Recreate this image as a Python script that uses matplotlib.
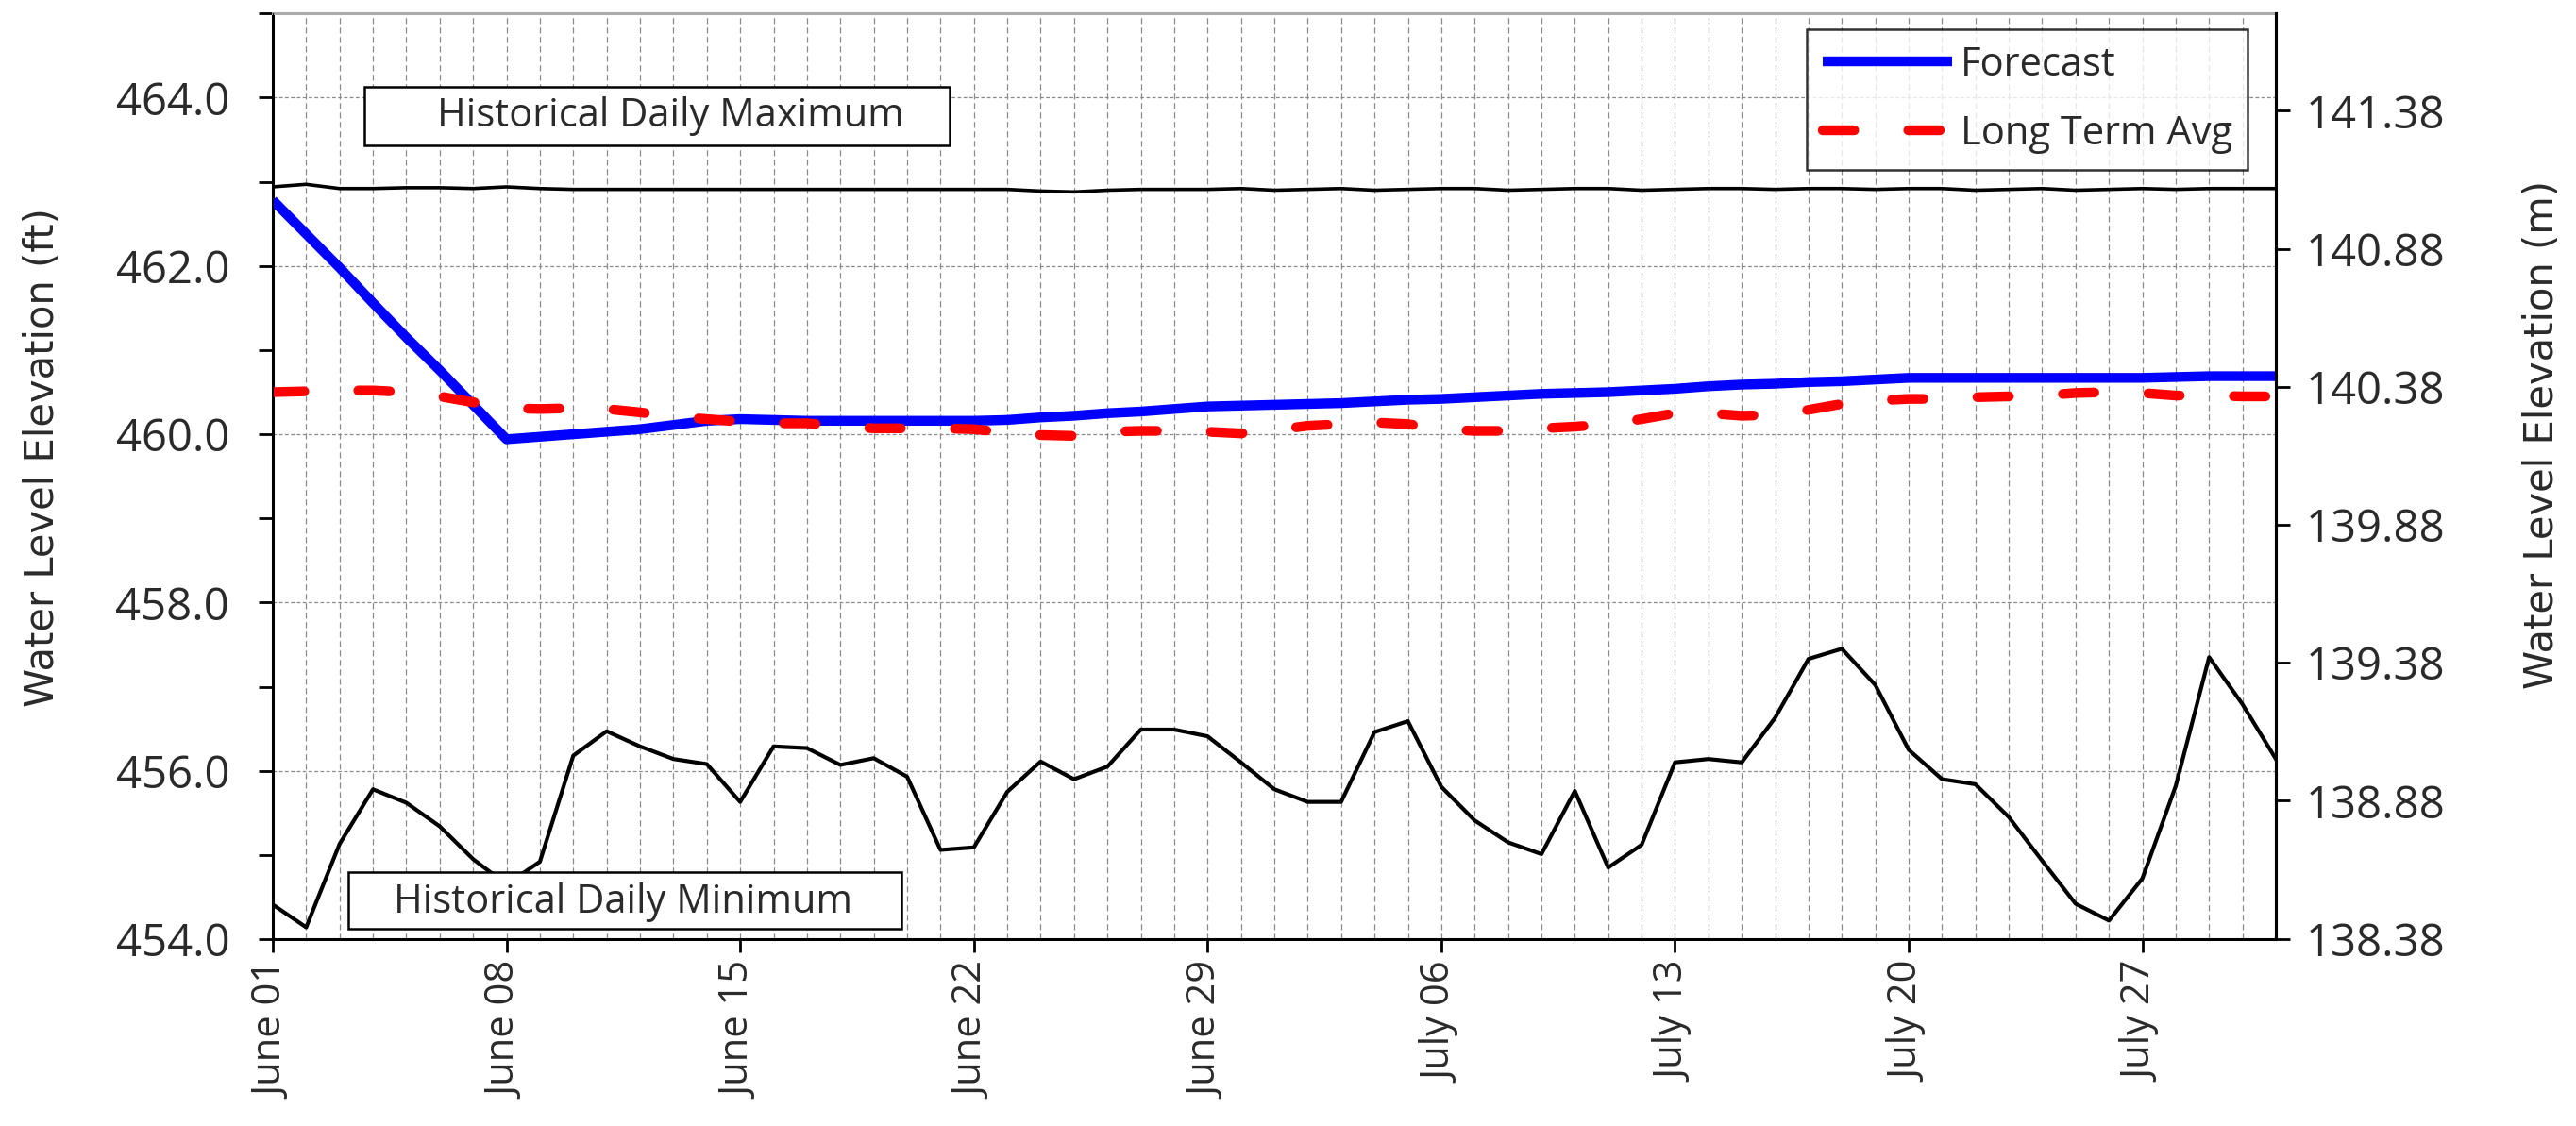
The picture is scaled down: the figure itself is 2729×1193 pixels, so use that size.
import matplotlib
matplotlib.use("Agg")
import matplotlib.pyplot as plt
from matplotlib.patches import Rectangle
from matplotlib.ticker import MultipleLocator, FormatStrFormatter, FixedLocator
import numpy as np

# day index 0 = June 01 ... 60 = July 31
days = np.arange(61)
tick_days = [0, 7, 14, 21, 28, 35, 42, 49, 56]
tick_labels = ["June 01", "June 08", "June 15", "June 22", "June 29",
               "July 06", "July 13", "July 20", "July 27"]

# Water level elevation (ft)
forecast = [462.78, 462.38, 461.98, 461.56, 461.15, 460.76, 460.35, 459.94, 459.97, 460.00,
            460.03, 460.06, 460.11, 460.16, 460.18, 460.17, 460.16, 460.16, 460.16, 460.16,
            460.16, 460.16, 460.17, 460.20, 460.22, 460.25, 460.27, 460.30, 460.33, 460.34,
            460.35, 460.36, 460.37, 460.39, 460.41, 460.42, 460.44, 460.46, 460.48, 460.49,
            460.50, 460.52, 460.54, 460.57, 460.59, 460.60, 460.62, 460.63, 460.65, 460.67,
            460.67, 460.67, 460.67, 460.67, 460.67, 460.67, 460.67, 460.68, 460.69, 460.69,
            460.69]

long_term_avg = [460.50, 460.51, 460.52, 460.52, 460.50, 460.45, 460.38, 460.31, 460.30, 460.31,
                 460.30, 460.26, 460.21, 460.18, 460.15, 460.13, 460.13, 460.10, 460.07, 460.07,
                 460.07, 460.06, 460.02, 459.99, 459.98, 460.03, 460.04, 460.04, 460.03, 460.01,
                 460.05, 460.10, 460.12, 460.14, 460.12, 460.06, 460.04, 460.04, 460.07, 460.09,
                 460.12, 460.18, 460.25, 460.25, 460.22, 460.23, 460.29, 460.36, 460.40, 460.42,
                 460.42, 460.44, 460.45, 460.46, 460.49, 460.50, 460.49, 460.46, 460.46, 460.45,
                 460.45]

hist_max = [462.94, 462.97, 462.92, 462.92, 462.93, 462.93, 462.92, 462.94, 462.92, 462.91,
            462.91, 462.91, 462.91, 462.91, 462.91, 462.91, 462.91, 462.91, 462.91, 462.91,
            462.91, 462.91, 462.91, 462.89, 462.88, 462.90, 462.91, 462.91, 462.91, 462.92,
            462.90, 462.91, 462.92, 462.90, 462.91, 462.92, 462.92, 462.90, 462.91, 462.92,
            462.92, 462.90, 462.91, 462.92, 462.92, 462.91, 462.92, 462.92, 462.91, 462.92,
            462.92, 462.90, 462.91, 462.92, 462.90, 462.91, 462.92, 462.91, 462.92, 462.92,
            462.92]

hist_min = [454.41, 454.14, 455.13, 455.78, 455.62, 455.34, 454.95, 454.65, 454.92, 456.18,
            456.47, 456.29, 456.14, 456.08, 455.63, 456.29, 456.27, 456.07, 456.15, 455.93,
            455.06, 455.09, 455.75, 456.11, 455.90, 456.05, 456.49, 456.49, 456.41, 456.10,
            455.78, 455.63, 455.63, 456.46, 456.59, 455.81, 455.41, 455.15, 455.01, 455.76,
            454.85, 455.12, 456.10, 456.14, 456.10, 456.63, 457.33, 457.45, 457.02, 456.25,
            455.90, 455.84, 455.45, 454.93, 454.42, 454.22, 454.72, 455.82, 457.35, 456.79,
            456.14]

FT_TO_M = 0.3048

tick_font = "Open Sans"
label_font = "DejaVu Sans"
text_col = "#2a2a2a"

fig = plt.figure(figsize=(27.29, 11.93), dpi=100)
ax = fig.add_axes([0.1059, 0.166, 0.7776, 0.822])

ax.plot(days, hist_max, color="black", lw=2.6, zorder=3)
ax.plot(days, hist_min, color="black", lw=3.0, zorder=3)
ax.plot(days, forecast, color="#0000ff", lw=7.5, solid_capstyle="butt", label="Forecast", zorder=4)
ax.plot(days, long_term_avg, color="#ff0000", lw=7.5, dashes=(3.2, 5.5), dash_capstyle="round",
        label="Long Term Avg", zorder=5)

# label boxes
ax.add_patch(Rectangle((2.74, 463.43), 17.53, 0.70, fc="white", ec="black", lw=1.8, zorder=6))
ax.text(11.9, 463.78, "Historical Daily Maximum", ha="center", va="center",
        fontsize=30, family=tick_font, color=text_col, zorder=7)
ax.add_patch(Rectangle((2.26, 454.12), 16.57, 0.68, fc="white", ec="black", lw=1.8, zorder=6))
ax.text(10.5, 454.44, "Historical Daily Minimum", ha="center", va="center",
        fontsize=30, family=tick_font, color=text_col, zorder=7)

ax.set_xlim(0, 60)
ax.set_ylim(454, 465)

ax.xaxis.set_major_locator(FixedLocator(tick_days))
ax.set_xticklabels(tick_labels, rotation=90, family=tick_font, fontsize=30, color=text_col)
ax.xaxis.set_minor_locator(MultipleLocator(1))
ax.yaxis.set_major_locator(MultipleLocator(2))
ax.yaxis.set_minor_locator(MultipleLocator(1))
ax.yaxis.set_major_formatter(FormatStrFormatter("%.1f"))
for lab in ax.get_yticklabels():
    lab.set_family(tick_font)
    lab.set_fontsize(34)
    lab.set_color(text_col)

ax.tick_params(axis="x", which="major", length=10, width=2, pad=8)
ax.tick_params(axis="x", which="minor", length=0)
ax.tick_params(axis="y", which="both", length=11, width=2, pad=22)

ax.grid(axis="x", which="both", color="#8a8a8a", lw=0.9, linestyle=(0, (5, 3)))
ax.grid(axis="y", which="major", color="#8a8a8a", lw=0.9, linestyle=(0, (3, 2)))
ax.set_axisbelow(True)

for side in ["left", "bottom", "right"]:
    ax.spines[side].set_linewidth(2.2)
    ax.spines[side].set_color("black")
ax.spines["top"].set_color("#aaaaaa")
ax.spines["top"].set_linewidth(2.2)

ax.set_ylabel("Water Level Elevation (ft)", family=label_font, fontsize=30, color=text_col)
ax.yaxis.set_label_coords(-0.105, 0.52)

# metric axis on the right
ax2 = ax.twinx()
ax2.set_ylim(454 * FT_TO_M, 465 * FT_TO_M)
ax2.set_yticks([138.38, 138.88, 139.38, 139.88, 140.38, 140.88, 141.38])
ax2.yaxis.set_major_formatter(FormatStrFormatter("%.2f"))
for lab in ax2.get_yticklabels():
    lab.set_family(tick_font)
    lab.set_fontsize(34)
    lab.set_color(text_col)
ax2.tick_params(axis="y", length=11, width=2, pad=12)
ax2.spines["right"].set_linewidth(2.2)
ax2.spines["top"].set_visible(False)
ax2.set_ylabel("Water Level Elevation (m)", family=label_font, fontsize=30, color=text_col)
ax2.yaxis.set_label_coords(1.123, 0.545)

leg = ax.legend(loc="upper right", bbox_to_anchor=(0.986, 0.983), borderaxespad=0,
                prop={"family": tick_font, "size": 30}, frameon=True, fancybox=False,
                handlelength=3.3, handletextpad=0.2, labelspacing=0.75, borderpad=0.4)
leg.get_frame().set_edgecolor("black")
leg.get_frame().set_linewidth(1.8)
leg.set_zorder(10)
for t in leg.get_texts():
    t.set_color(text_col)

fig.savefig("out.png", dpi=100)
